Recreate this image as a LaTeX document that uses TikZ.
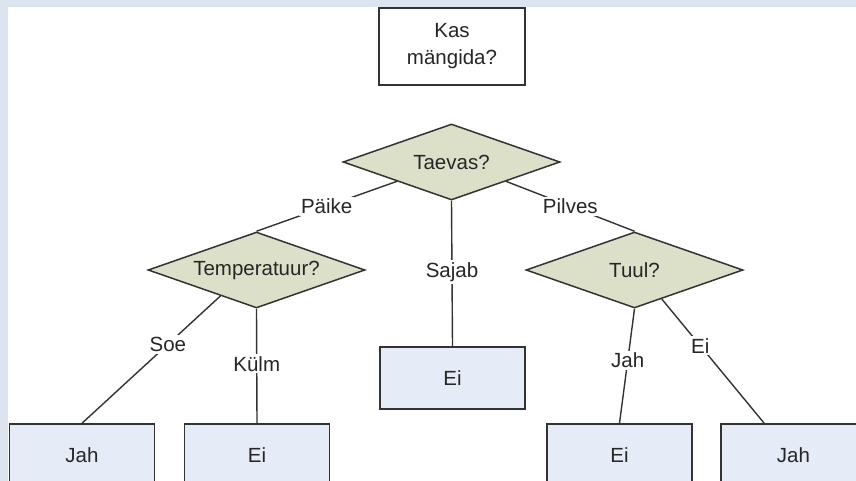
\documentclass[tikz,border=0pt]{standalone}
\usepackage{fontspec}
\setmainfont{Liberation Sans}
\usetikzlibrary{shapes.geometric,calc}
\definecolor{framebg}{HTML}{DCE4F0}
\definecolor{leafbg}{HTML}{E6ECF7}
\definecolor{testbg}{HTML}{DDE0C9}
\definecolor{ink}{HTML}{333333}
\definecolor{txt}{HTML}{262626}
\tikzset{
  every node/.style={font=\fontsize{20.5}{27}\selectfont, text=txt},
  rootbox/.style={draw=ink, line width=1.5pt, fill=white, minimum width=146pt,
    minimum height=77pt, align=center, inner sep=0pt},
  leafbox/.style={draw=ink, line width=1.5pt, fill=leafbg, minimum width=145pt,
    minimum height=62pt, inner sep=0pt},
  testbox/.style={draw=ink, line width=1.5pt, fill=testbg, diamond, aspect=2.86,
    minimum width=217pt, minimum height=76pt, inner sep=0pt},
  branch/.style={draw=ink, line width=1.4pt},
  tag/.style={fill=white, inner sep=2pt}
}
\begin{document}
\begin{tikzpicture}[x=1pt,y=-1pt]
  % page frame
  \clip (0,0) rectangle (856,481);
  \fill[framebg] (0,0) rectangle (856,481);
  \fill[white] (8,7) rectangle (856,481);

  % question and tests
  \node[rootbox] (root) at (452,46.5) {Kas\\mängida?};
  \node[testbox] (sky) at (451.5,162) {Taevas?};
  \node[testbox] (temp) at (256.5,270) {Temperatuur?};
  \node[testbox] (wind) at (634.5,270) {Tuul?};

  % outcomes
  \node[leafbox] (rain) at (452.5,378) {Ei};
  \node[leafbox] (warm) at (82,455) {Jah};
  \node[leafbox] (cold) at (257,455) {Ei};
  \node[leafbox] (windy) at (619.5,455) {Ei};
  \node[leafbox] (calm) at (793.5,455) {Jah};

  % branches
  \draw[branch] (sky.south west) -- node[tag, pos=0.5] {Päike} (temp.north);
  \draw[branch] (sky.south east) -- node[tag, pos=0.5] {Pilves} (wind.north);
  \draw[branch] (sky.south) -- node[tag, pos=0.49] {Sajab} (rain.north);
  \draw[branch] ($(temp.west)!0.67!(temp.south)$) -- node[tag, pos=0.38] {Soe} (warm.north);
  \draw[branch] (temp.south) -- node[tag, pos=0.48] {Külm} (cold.north);
  \draw[branch] (wind.south) -- node[tag, pos=0.45] {Jah} (windy.north);
  \draw[branch] ($(wind.south)!0.25!(wind.east)$) -- node[tag, pos=0.375] {Ei}
    ($(calm.north west)!0.3!(calm.north east)$);
\end{tikzpicture}
\end{document}
